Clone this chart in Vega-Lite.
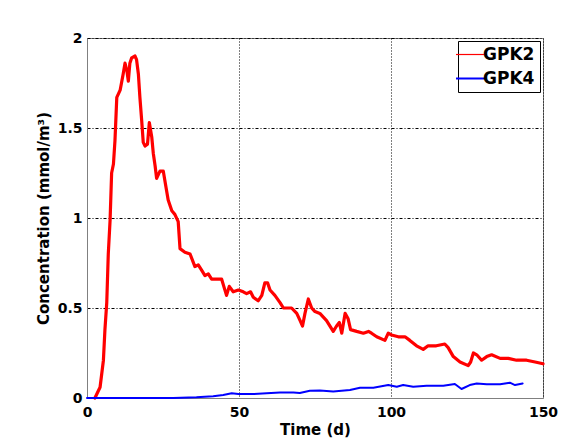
{
  "$schema": "https://vega.github.io/schema/vega-lite/v6.json",
  "width": 456,
  "height": 360,
  "autosize": {"type": "none"},
  "padding": {"left": 87, "top": 38, "right": 18, "bottom": 44},
  "background": "white",
  "config": {
    "view": {"stroke": "#808080", "strokeWidth": 1},
    "axis": {
      "labelFont": "DejaVu Sans",
      "labelFontWeight": "bold",
      "labelFontSize": 14,
      "labelColor": "black",
      "titleFont": "DejaVu Sans",
      "titleFontWeight": "bold",
      "titleFontSize": 15,
      "titleColor": "black",
      "domainColor": "#808080",
      "gridColor": "black",
      "gridOpacity": 1,
      "gridWidth": 1
    },
    "legend": {
      "labelFont": "DejaVu Sans",
      "labelFontWeight": "bold",
      "labelFontSize": 17,
      "labelColor": "black"
    }
  },
  "datasets": {
    "curves": [
      {"t": 2.6, "c": 0, "s": "GPK2"},
      {"t": 4.3, "c": 0.06, "s": "GPK2"},
      {"t": 5.4, "c": 0.21, "s": "GPK2"},
      {"t": 5.9, "c": 0.38, "s": "GPK2"},
      {"t": 6.5, "c": 0.53, "s": "GPK2"},
      {"t": 7.0, "c": 0.8, "s": "GPK2"},
      {"t": 7.6, "c": 0.99, "s": "GPK2"},
      {"t": 8.1, "c": 1.25, "s": "GPK2"},
      {"t": 8.7, "c": 1.3, "s": "GPK2"},
      {"t": 9.2, "c": 1.43, "s": "GPK2"},
      {"t": 9.8, "c": 1.67, "s": "GPK2"},
      {"t": 10.9, "c": 1.71, "s": "GPK2"},
      {"t": 11.9, "c": 1.8, "s": "GPK2"},
      {"t": 12.5, "c": 1.86, "s": "GPK2"},
      {"t": 13.1, "c": 1.82, "s": "GPK2"},
      {"t": 13.6, "c": 1.76, "s": "GPK2"},
      {"t": 14.1, "c": 1.86, "s": "GPK2"},
      {"t": 14.7, "c": 1.89, "s": "GPK2"},
      {"t": 15.8, "c": 1.9, "s": "GPK2"},
      {"t": 16.3, "c": 1.88, "s": "GPK2"},
      {"t": 16.9, "c": 1.8, "s": "GPK2"},
      {"t": 17.4, "c": 1.67, "s": "GPK2"},
      {"t": 18.0, "c": 1.54, "s": "GPK2"},
      {"t": 18.5, "c": 1.42, "s": "GPK2"},
      {"t": 19.1, "c": 1.4, "s": "GPK2"},
      {"t": 19.9, "c": 1.41, "s": "GPK2"},
      {"t": 20.5, "c": 1.53, "s": "GPK2"},
      {"t": 21.3, "c": 1.45, "s": "GPK2"},
      {"t": 21.8, "c": 1.36, "s": "GPK2"},
      {"t": 22.4, "c": 1.29, "s": "GPK2"},
      {"t": 22.9, "c": 1.22, "s": "GPK2"},
      {"t": 24.0, "c": 1.26, "s": "GPK2"},
      {"t": 25.1, "c": 1.26, "s": "GPK2"},
      {"t": 26.0, "c": 1.17, "s": "GPK2"},
      {"t": 26.7, "c": 1.1, "s": "GPK2"},
      {"t": 27.9, "c": 1.04, "s": "GPK2"},
      {"t": 28.9, "c": 1.02, "s": "GPK2"},
      {"t": 30.0, "c": 0.98, "s": "GPK2"},
      {"t": 30.6, "c": 0.83, "s": "GPK2"},
      {"t": 32.2, "c": 0.81, "s": "GPK2"},
      {"t": 33.9, "c": 0.8, "s": "GPK2"},
      {"t": 35.5, "c": 0.73, "s": "GPK2"},
      {"t": 36.6, "c": 0.74, "s": "GPK2"},
      {"t": 37.7, "c": 0.71, "s": "GPK2"},
      {"t": 38.8, "c": 0.68, "s": "GPK2"},
      {"t": 39.9, "c": 0.69, "s": "GPK2"},
      {"t": 41.0, "c": 0.66, "s": "GPK2"},
      {"t": 42.7, "c": 0.66, "s": "GPK2"},
      {"t": 44.3, "c": 0.66, "s": "GPK2"},
      {"t": 45.0, "c": 0.62, "s": "GPK2"},
      {"t": 45.9, "c": 0.57, "s": "GPK2"},
      {"t": 46.8, "c": 0.62, "s": "GPK2"},
      {"t": 48.1, "c": 0.59, "s": "GPK2"},
      {"t": 49.8, "c": 0.6, "s": "GPK2"},
      {"t": 51.4, "c": 0.59, "s": "GPK2"},
      {"t": 52.5, "c": 0.58, "s": "GPK2"},
      {"t": 53.8, "c": 0.59, "s": "GPK2"},
      {"t": 54.7, "c": 0.56, "s": "GPK2"},
      {"t": 56.3, "c": 0.54, "s": "GPK2"},
      {"t": 57.5, "c": 0.57, "s": "GPK2"},
      {"t": 58.5, "c": 0.64, "s": "GPK2"},
      {"t": 59.4, "c": 0.64, "s": "GPK2"},
      {"t": 60.2, "c": 0.6, "s": "GPK2"},
      {"t": 61.8, "c": 0.57, "s": "GPK2"},
      {"t": 63.5, "c": 0.53, "s": "GPK2"},
      {"t": 64.6, "c": 0.5, "s": "GPK2"},
      {"t": 67.3, "c": 0.5, "s": "GPK2"},
      {"t": 69.0, "c": 0.47, "s": "GPK2"},
      {"t": 70.1, "c": 0.43, "s": "GPK2"},
      {"t": 70.9, "c": 0.4, "s": "GPK2"},
      {"t": 71.7, "c": 0.47, "s": "GPK2"},
      {"t": 72.8, "c": 0.55, "s": "GPK2"},
      {"t": 73.9, "c": 0.5, "s": "GPK2"},
      {"t": 75.0, "c": 0.48, "s": "GPK2"},
      {"t": 76.6, "c": 0.47, "s": "GPK2"},
      {"t": 78.8, "c": 0.43, "s": "GPK2"},
      {"t": 81.0, "c": 0.37, "s": "GPK2"},
      {"t": 82.1, "c": 0.4, "s": "GPK2"},
      {"t": 83.0, "c": 0.42, "s": "GPK2"},
      {"t": 83.8, "c": 0.36, "s": "GPK2"},
      {"t": 84.9, "c": 0.47, "s": "GPK2"},
      {"t": 85.9, "c": 0.44, "s": "GPK2"},
      {"t": 86.7, "c": 0.38, "s": "GPK2"},
      {"t": 88.7, "c": 0.37, "s": "GPK2"},
      {"t": 90.9, "c": 0.36, "s": "GPK2"},
      {"t": 92.6, "c": 0.37, "s": "GPK2"},
      {"t": 93.6, "c": 0.36, "s": "GPK2"},
      {"t": 95.3, "c": 0.34, "s": "GPK2"},
      {"t": 98.0, "c": 0.32, "s": "GPK2"},
      {"t": 99.1, "c": 0.36, "s": "GPK2"},
      {"t": 100.2, "c": 0.35, "s": "GPK2"},
      {"t": 102.4, "c": 0.34, "s": "GPK2"},
      {"t": 104.6, "c": 0.34, "s": "GPK2"},
      {"t": 106.2, "c": 0.32, "s": "GPK2"},
      {"t": 108.4, "c": 0.29, "s": "GPK2"},
      {"t": 110.6, "c": 0.27, "s": "GPK2"},
      {"t": 112.2, "c": 0.29, "s": "GPK2"},
      {"t": 114.9, "c": 0.29, "s": "GPK2"},
      {"t": 117.7, "c": 0.3, "s": "GPK2"},
      {"t": 118.8, "c": 0.28, "s": "GPK2"},
      {"t": 120.5, "c": 0.23, "s": "GPK2"},
      {"t": 122.7, "c": 0.2, "s": "GPK2"},
      {"t": 125.4, "c": 0.18, "s": "GPK2"},
      {"t": 126.2, "c": 0.2, "s": "GPK2"},
      {"t": 127.1, "c": 0.25, "s": "GPK2"},
      {"t": 128.2, "c": 0.24, "s": "GPK2"},
      {"t": 129.8, "c": 0.21, "s": "GPK2"},
      {"t": 131.5, "c": 0.23, "s": "GPK2"},
      {"t": 133.1, "c": 0.24, "s": "GPK2"},
      {"t": 135.9, "c": 0.22, "s": "GPK2"},
      {"t": 138.6, "c": 0.22, "s": "GPK2"},
      {"t": 141.3, "c": 0.21, "s": "GPK2"},
      {"t": 144.6, "c": 0.21, "s": "GPK2"},
      {"t": 147.4, "c": 0.2, "s": "GPK2"},
      {"t": 150, "c": 0.19, "s": "GPK2"},
      {"t": 0, "c": 0, "s": "GPK4"},
      {"t": 28.4, "c": 0, "s": "GPK4"},
      {"t": 36, "c": 0.004, "s": "GPK4"},
      {"t": 41.5, "c": 0.01, "s": "GPK4"},
      {"t": 44.8, "c": 0.017, "s": "GPK4"},
      {"t": 47.6, "c": 0.026, "s": "GPK4"},
      {"t": 49.8, "c": 0.022, "s": "GPK4"},
      {"t": 54.7, "c": 0.022, "s": "GPK4"},
      {"t": 59.1, "c": 0.026, "s": "GPK4"},
      {"t": 63.5, "c": 0.03, "s": "GPK4"},
      {"t": 67.9, "c": 0.03, "s": "GPK4"},
      {"t": 70, "c": 0.028, "s": "GPK4"},
      {"t": 73.3, "c": 0.04, "s": "GPK4"},
      {"t": 76.6, "c": 0.042, "s": "GPK4"},
      {"t": 81, "c": 0.036, "s": "GPK4"},
      {"t": 86.5, "c": 0.044, "s": "GPK4"},
      {"t": 89.8, "c": 0.057, "s": "GPK4"},
      {"t": 94.2, "c": 0.057, "s": "GPK4"},
      {"t": 99.1, "c": 0.072, "s": "GPK4"},
      {"t": 101.9, "c": 0.063, "s": "GPK4"},
      {"t": 104, "c": 0.072, "s": "GPK4"},
      {"t": 107.3, "c": 0.063, "s": "GPK4"},
      {"t": 111.7, "c": 0.068, "s": "GPK4"},
      {"t": 117.2, "c": 0.068, "s": "GPK4"},
      {"t": 121, "c": 0.078, "s": "GPK4"},
      {"t": 123.2, "c": 0.05, "s": "GPK4"},
      {"t": 125.9, "c": 0.072, "s": "GPK4"},
      {"t": 128.2, "c": 0.081, "s": "GPK4"},
      {"t": 131.5, "c": 0.076, "s": "GPK4"},
      {"t": 135.9, "c": 0.076, "s": "GPK4"},
      {"t": 139.1, "c": 0.085, "s": "GPK4"},
      {"t": 140.8, "c": 0.072, "s": "GPK4"},
      {"t": 143.3, "c": 0.081, "s": "GPK4"}
    ]
  },
  "encoding": {
    "x": {
      "field": "t",
      "type": "quantitative",
      "scale": {"domain": [0, 150], "nice": false, "zero": false},
      "axis": {
        "values": [0, 50, 100, 150],
        "labelExpr": "'' + datum.value",
        "title": "Time (d)",
        "grid": true,
        "gridDash": [1, 2],
        "ticks": false,
        "labelPadding": 7,
        "titlePadding": 3,
        "labelFlush": false
      }
    },
    "y": {
      "field": "c",
      "type": "quantitative",
      "scale": {"domain": [0, 2], "nice": false},
      "axis": {
        "values": [0, 0.5, 1, 1.5, 2],
        "labelExpr": "'' + datum.value",
        "title": "Concentration (mmol/m³)",
        "grid": true,
        "gridDash": [3, 2, 1, 2],
        "ticks": false,
        "labelPadding": 5,
        "titlePadding": 6,
        "labelFlush": false
      }
    },
    "color": {
      "field": "s",
      "type": "nominal",
      "scale": {"domain": ["GPK2", "GPK4"], "range": ["#ff0000", "#0000ff"]},
      "legend": {
        "title": null,
        "orient": "top-right",
        "offset": 3,
        "strokeColor": "black",
        "fillColor": "white",
        "padding": 5,
        "symbolType": "stroke",
        "symbolSize": 961,
        "rowPadding": 6,
        "labelOffset": 3,
        "encode": {
          "symbols": {
            "update": {
              "size": {"value": 961},
              "strokeWidth": {"signal": "datum.value === 'GPK2' ? 1.2 : 2"}
            }
          }
        }
      }
    }
  },
  "layer": [
    {
      "data": {"name": "curves"},
      "transform": [{"filter": "datum.s === 'GPK2'"}],
      "mark": {"type": "line", "strokeJoin": "round", "strokeCap": "round", "strokeWidth": 3.2}
    },
    {
      "data": {"name": "curves"},
      "transform": [{"filter": "datum.s === 'GPK4'"}],
      "mark": {"type": "line", "strokeJoin": "round", "strokeCap": "round", "strokeWidth": 2}
    },
    {
      "mark": {"type": "rule", "color": "black", "strokeWidth": 2},
      "encoding": {"y": {"datum": 2}, "x": null, "color": null}
    }
  ]
}
